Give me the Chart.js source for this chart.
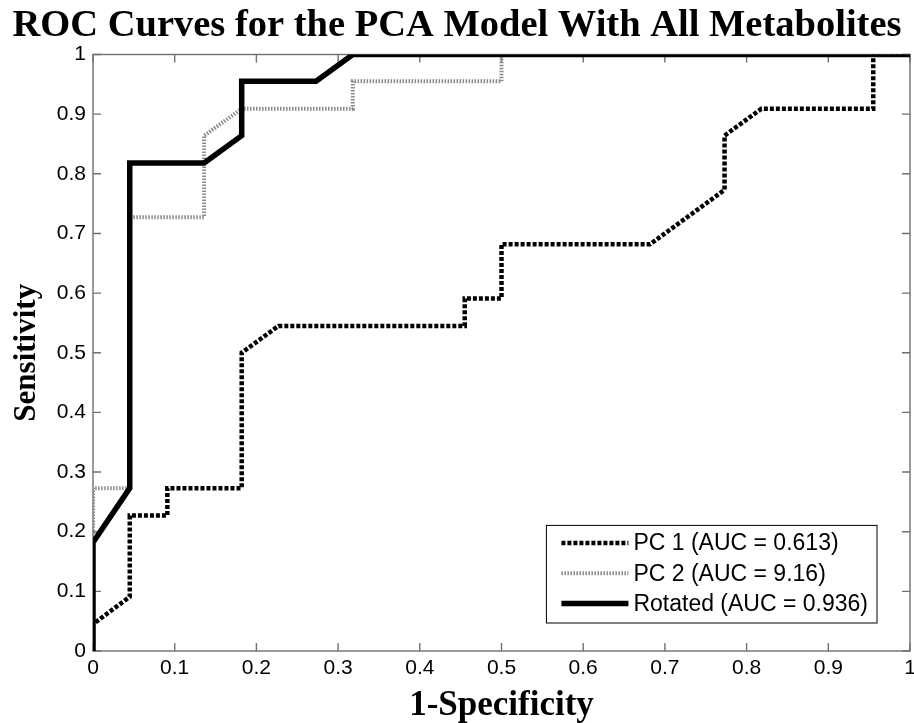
<!DOCTYPE html>
<html>
<head>
<meta charset="utf-8">
<title>ROC Curves</title>
<script src="https://cdn.jsdelivr.net/npm/chart.js"></script>
<style>
  html, body { margin: 0; padding: 0; background: #fff; }
</style>
</head>
<body>
<canvas id="roc" width="914" height="723"></canvas>
<script>
// ROC points: 1-specificity (x) and sensitivity (y)
const pc1X = [0, 0, 0.045, 0.045, 0.091, 0.091, 0.182, 0.182, 0.227, 0.455, 0.455, 0.5, 0.5, 0.682, 0.773, 0.773, 0.818, 0.955, 0.955, 1];
const pc1Y = [0, 0.045, 0.091, 0.227, 0.227, 0.273, 0.273, 0.5, 0.545, 0.545, 0.591, 0.591, 0.682, 0.682, 0.773, 0.864, 0.909, 0.909, 1, 1];

const pc2X = [0, 0, 0.045, 0.045, 0.136, 0.136, 0.182, 0.318, 0.318, 0.5, 0.5, 1];
const pc2Y = [0, 0.273, 0.273, 0.727, 0.727, 0.864, 0.909, 0.909, 0.955, 0.955, 1, 1];

const rotX = [0, 0, 0.045, 0.045, 0.136, 0.182, 0.182, 0.273, 0.318, 1];
const rotY = [0, 0.182, 0.273, 0.818, 0.818, 0.864, 0.955, 0.955, 1, 1];

const seriesNames = ['PC 1 (AUC = 0.613)', 'PC 2 (AUC = 9.16)', 'Rotated (AUC = 0.936)'];
const tickValues = [0, 0.1, 0.2, 0.3, 0.4, 0.5, 0.6, 0.7, 0.8, 0.9, 1];
const tickLabels = ['0', '0.1', '0.2', '0.3', '0.4', '0.5', '0.6', '0.7', '0.8', '0.9', '1'];

const toPoints = (xs, ys) => xs.map((x, i) => ({x: x, y: ys[i]}));
const labelFor = (v, i) => tickLabels[i];

const sansFont = '"Liberation Sans", Arial, sans-serif';
const serifFont = '"Liberation Serif", "Times New Roman", serif';

// box + inward ticks on all four sides
const frameTicks = {
  id: 'frameTicks',
  beforeDatasetsDraw(chart) {
    const {ctx, chartArea: a, scales: {x, y}} = chart;
    ctx.save();
    ctx.strokeStyle = '#707070';
    ctx.lineWidth = 1.4;
    ctx.strokeRect(a.left, a.top, a.width, a.height);
    ctx.beginPath();
    x.ticks.forEach(t => {
      const px = x.getPixelForValue(t.value);
      ctx.moveTo(px, a.bottom); ctx.lineTo(px, a.bottom - 8);
      ctx.moveTo(px, a.top); ctx.lineTo(px, a.top + 8);
    });
    y.ticks.forEach(t => {
      const py = y.getPixelForValue(t.value);
      ctx.moveTo(a.left, py); ctx.lineTo(a.left + 8, py);
      ctx.moveTo(a.right, py); ctx.lineTo(a.right - 8, py);
    });
    ctx.stroke();
    ctx.restore();
  }
};

// legend drawn as a boxed key in the lower right of the plot
const boxLegend = {
  id: 'boxLegend',
  afterDraw(chart) {
    const {ctx, chartArea: a} = chart;
    const sets = chart.data.datasets;
    ctx.save();
    ctx.font = '23px ' + sansFont;
    const textW = Math.max(...sets.map(d => ctx.measureText(d.label).width));
    const padL = 15, sample = 67, gap = 5, padR = 9, rowH = 30.3;
    const w = padL + sample + gap + textW + padR;
    const h = 17.5 + rowH * (sets.length - 1) + 19.5;
    const bx = a.right - 33 - w;
    const by = a.bottom - 28 - h;
    ctx.fillStyle = '#fff';
    ctx.fillRect(bx, by, w, h);
    ctx.strokeStyle = '#000';
    ctx.lineWidth = 1;
    ctx.strokeRect(bx, by, w, h);
    sets.forEach((d, i) => {
      const cy = by + 17.5 + rowH * i;
      ctx.beginPath();
      ctx.setLineDash(d.borderDash || []);
      ctx.strokeStyle = d.borderColor;
      ctx.lineWidth = d.borderWidth;
      ctx.moveTo(bx + padL, cy);
      ctx.lineTo(bx + padL + sample, cy);
      ctx.stroke();
      ctx.setLineDash([]);
      ctx.fillStyle = '#000';
      ctx.textBaseline = 'middle';
      ctx.fillText(d.label, bx + padL + sample + gap, cy + 1);
    });
    ctx.restore();
  }
};

new Chart(document.getElementById('roc'), {
  type: 'line',
  data: {
    datasets: [
      {
        label: seriesNames[0],
        data: toPoints(pc1X, pc1Y),
        borderColor: '#000',
        borderWidth: 4.5,
        borderDash: [4, 2],
        order: 3
      },
      {
        label: seriesNames[1],
        data: toPoints(pc2X, pc2Y),
        borderColor: '#8a8a8a',
        borderWidth: 4,
        borderDash: [1.5, 1.5],
        order: 2
      },
      {
        label: seriesNames[2],
        data: toPoints(rotX, rotY),
        borderColor: '#000',
        borderWidth: 5.5,
        order: 1
      }
    ]
  },
  options: {
    responsive: false,
    animation: false,
    events: [],
    elements: {
      point: {radius: 0},
      line: {tension: 0, fill: false, borderCapStyle: 'butt', borderJoinStyle: 'miter'}
    },
    layout: {padding: {left: 0, right: 0, top: 0, bottom: 0}},
    scales: {
      x: {
        type: 'linear',
        min: 0,
        max: 1,
        afterBuildTicks: s => { s.ticks = tickValues.map(v => ({value: v})); },
        afterFit: s => { s.height = 72; s.paddingRight = 4; s.paddingLeft = 0; },
        grid: {display: false, drawTicks: false},
        border: {display: false},
        ticks: {color: '#000', padding: 5, font: {family: sansFont, size: 21}, callback: labelFor},
        title: {
          display: true,
          text: '1-Specificity',
          color: '#000',
          padding: 0,
          font: {family: serifFont, size: 35, weight: 'bold', lineHeight: 1}
        }
      },
      y: {
        type: 'linear',
        min: 0,
        max: 1,
        afterBuildTicks: s => { s.ticks = tickValues.map(v => ({value: v})); },
        afterFit: s => { s.width = 93; },
        grid: {display: false, drawTicks: false},
        border: {display: false},
        ticks: {color: '#000', padding: 7, font: {family: sansFont, size: 21}, callback: labelFor},
        title: {
          display: true,
          text: 'Sensitivity',
          color: '#000',
          padding: {top: 11, bottom: 0},
          font: {family: serifFont, size: 31, weight: 'bold', lineHeight: 1}
        }
      }
    },
    plugins: {
      legend: {display: false},
      tooltip: {enabled: false},
      title: {
        display: true,
        text: 'ROC Curves for the PCA Model With All Metabolites',
        color: '#000',
        padding: {top: 7, bottom: 9},
        font: {family: serifFont, size: 38.5, weight: 'bold', lineHeight: 1}
      }
    }
  },
  plugins: [frameTicks, boxLegend]
});
</script>
</body>
</html>
